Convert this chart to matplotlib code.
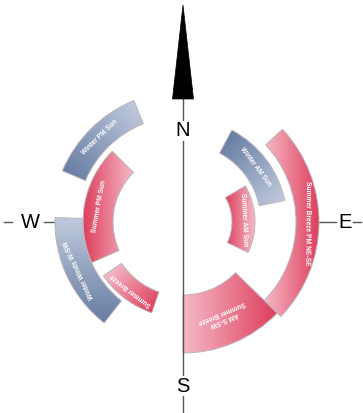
import numpy as np
import matplotlib
matplotlib.use("Agg")
import matplotlib.pyplot as plt
from matplotlib.patches import Wedge, Polygon

# ---- data: compass sectors (degrees clockwise from north, radii in px) ----
labels = ["Summer Breeze PM NE-SE", "AM S-SW\nSummer Breeze", "Winter AM Sun",
          "Summer AM Sun", "Winter PM Sun", "Summer PM Sun",
          "Winter Winds W-SW", "Summer Breeze"]
season = ["summer", "summer", "winter", "summer", "winter", "summer", "winter", "summer"]
start_deg = [47, 134, 28, 60, 293, 246, 218, 199]
end_deg = [134, 180, 78, 115, 338, 315, 272, 236]
r_inner = [113, 73, 78, 49, 106, 70, 100, 74]
r_outer = [136, 131, 104, 72, 131, 100, 128, 96]
shade_dir = [0, 0, 135, 180, 225, 180, 270, 315]  # direction toward darker tone
compass_labels = ["N", "E", "S", "W"]

# ---- style ----
W, H = 363, 413
cx, cy = 183, 222
pal = {"summer": ((222, 62, 92), (249, 208, 217)),
       "winter": ((102, 124, 162), (208, 216, 231))}

fig = plt.figure(figsize=(W / 100, H / 100), dpi=100)
ax = fig.add_axes([0, 0, 1, 1])
ax.set_xlim(0, W)
ax.set_ylim(H, 0)
ax.set_aspect("auto")
ax.axis("off")

xs = np.arange(W) + 0.5
ys = np.arange(H) + 0.5
X, Y = np.meshgrid(xs, ys)

for i in range(len(labels)):
    t1, t2 = start_deg[i] - 90, end_deg[i] - 90
    wedge = Wedge((cx, cy), r_outer[i], t1, t2, width=r_outer[i] - r_inner[i],
                  facecolor="none", edgecolor=(0.74, 0.70, 0.74), lw=0.7, zorder=3)
    ax.add_patch(wedge)
    d = np.deg2rad(shade_dir[i])
    ux, uy = np.cos(d), -np.sin(d)
    thetas = np.deg2rad(np.linspace(start_deg[i], end_deg[i], 50))
    px = np.concatenate([cx + r_outer[i] * np.sin(thetas), cx + r_inner[i] * np.sin(thetas)])
    py = np.concatenate([cy - r_outer[i] * np.cos(thetas), cy - r_inner[i] * np.cos(thetas)])
    proj = px * ux + py * uy
    P = X * ux + Y * uy
    f = np.clip((P - proj.min()) / (proj.max() - proj.min()), 0, 1)
    f = 0.15 + 0.85 * f
    dark, light = pal[season[i]]
    dark = np.array(dark) / 255.0
    light = np.array(light) / 255.0
    img = light[None, None, :] * (1 - f[..., None]) + dark[None, None, :] * f[..., None]
    im = ax.imshow(img, extent=(0, W, H, 0), zorder=2, interpolation="bilinear")
    clip = Wedge((cx, cy), r_outer[i], t1, t2, width=r_outer[i] - r_inner[i],
                 transform=ax.transData)
    im.set_clip_path(clip)
    mid = np.deg2rad((start_deg[i] + end_deg[i]) / 2)
    rm = (r_inner[i] + r_outer[i]) / 2
    tx = cx + rm * np.sin(mid)
    ty = cy - rm * np.cos(mid)
    rot = -np.rad2deg(mid)
    ax.text(tx, ty, labels[i], rotation=rot, rotation_mode="anchor",
            ha="center", va="center", color="white", fontsize=4.8,
            fontweight="bold", family="Liberation Sans", zorder=5, linespacing=1.1)

ax.set_ylim(H, 0)
ax.set_xlim(0, W)

# compass lines
line_kw = dict(color="#555555", lw=1.0)
ax.plot([cx, cx], [99, H], zorder=4, **line_kw)
ax.plot([4, 12], [cy, cy], zorder=4, **line_kw)
ax.plot([44, 84], [cy, cy], zorder=1, **line_kw)
ax.plot([300, 336], [cy, cy], zorder=1, **line_kw)
ax.plot([353, 361], [cy, cy], zorder=4, **line_kw)

# north arrow
ax.add_patch(Polygon([[cx, 5], [cx - 10.5, 99], [cx + 10.5, 99]],
                     closed=True, facecolor="black", edgecolor="black", lw=0.5, zorder=6))

txt_kw = dict(ha="center", va="center", fontsize=14.5, family="Liberation Sans",
              color="black", zorder=7)
pos = {"N": (cx, 131), "E": (345, cy), "S": (cx, 386), "W": (30, cy)}
for c in compass_labels:
    x, y = pos[c]
    bb = dict(facecolor="white", edgecolor="none", pad=0.5) if c in ("N", "S") else None
    ax.text(x, y, c, bbox=bb, **txt_kw)

fig.savefig("out.png", dpi=100)
